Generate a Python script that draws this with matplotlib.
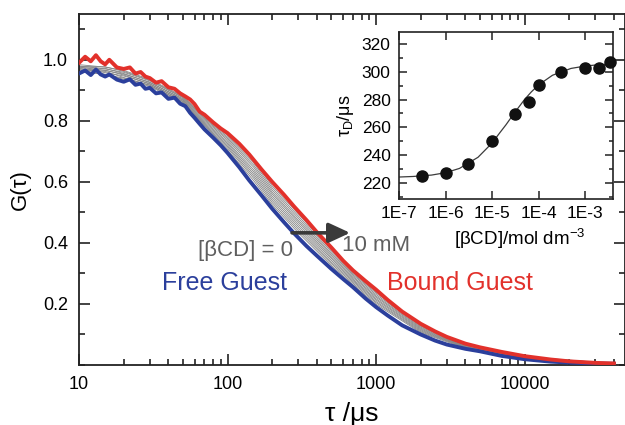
import numpy as np
import matplotlib
matplotlib.use("Agg")
import matplotlib.pyplot as plt
from matplotlib.ticker import FixedLocator, MultipleLocator, LogLocator, NullFormatter, FixedFormatter

plt.rcParams['font.family'] = ['Liberation Sans', 'DejaVu Sans']
plt.rcParams['mathtext.fontset'] = 'custom'
plt.rcParams['mathtext.rm'] = 'Liberation Sans'
plt.rcParams['mathtext.default'] = 'regular'

# -----------------------------
# FCS autocorrelation curves
# -----------------------------
tau = [10, 11, 12, 13, 14, 15, 16, 18, 20, 22, 24, 26, 28, 30, 33, 36, 40, 44, 48, 52, 56, 60,
       65, 70, 80, 90, 100, 120, 140, 170, 200, 240, 280, 340, 400, 500, 600, 700, 850, 1000,
       1200, 1500, 2000, 2500, 3000, 4000, 5000, 7000, 10000, 15000, 20000, 30000, 40000]
g_free = [0.955, 0.965, 0.950, 0.968, 0.952, 0.945, 0.952, 0.935, 0.928, 0.936, 0.918, 0.922,
          0.905, 0.908, 0.890, 0.893, 0.872, 0.876, 0.856, 0.848, 0.826, 0.810, 0.790, 0.772,
          0.745, 0.720, 0.695, 0.648, 0.605, 0.555, 0.512, 0.468, 0.432, 0.390, 0.358, 0.315,
          0.282, 0.255, 0.218, 0.190, 0.162, 0.130, 0.100, 0.080, 0.067, 0.053, 0.045, 0.030,
          0.019, 0.011, 0.008, 0.005, 0.004]
g_bound = [0.990, 1.010, 0.995, 1.015, 0.995, 0.985, 1.000, 0.975, 0.970, 0.975, 0.955, 0.960,
           0.945, 0.940, 0.925, 0.930, 0.910, 0.905, 0.890, 0.880, 0.870, 0.855, 0.830, 0.820,
           0.795, 0.775, 0.760, 0.725, 0.690, 0.640, 0.600, 0.558, 0.520, 0.475, 0.435, 0.385,
           0.342, 0.310, 0.275, 0.247, 0.213, 0.175, 0.135, 0.110, 0.092, 0.070, 0.058, 0.043,
           0.029, 0.018, 0.012, 0.007, 0.005]

tau_gray = [10, 15, 20, 30, 50, 70, 100, 150, 200, 300, 500, 700, 1000, 2000, 4000, 10000, 40000]
g_gray = [
    [.960, .953, .936, .913, .857, .779, .705, .604, .525, .433, .326, .263, .199, .106, .055, .020, .004],
    [.968, .951, .940, .917, .860, .784, .711, .612, .532, .440, .332, .268, .204, .109, .057, .021, .004],
    [.966, .962, .942, .916, .863, .787, .716, .619, .539, .447, .337, .273, .208, .112, .058, .022, .004],
    [.972, .958, .947, .922, .865, .791, .721, .626, .546, .454, .343, .277, .213, .115, .059, .023, .004],
    [.970, .966, .950, .920, .868, .795, .726, .633, .553, .461, .349, .281, .217, .118, .060, .023, .004],
    [.976, .965, .953, .927, .870, .799, .731, .640, .560, .468, .354, .286, .222, .121, .061, .024, .005],
    [.974, .972, .955, .925, .873, .803, .737, .648, .566, .474, .360, .290, .226, .124, .063, .025, .005],
    [.980, .970, .959, .931, .876, .807, .742, .655, .573, .481, .365, .295, .231, .127, .064, .025, .005],
    [.978, .977, .962, .933, .878, .810, .747, .662, .580, .488, .371, .299, .236, .130, .065, .026, .005],
    [.984, .976, .965, .936, .881, .814, .752, .669, .587, .495, .377, .303, .240, .133, .066, .027, .005],
]

# -----------------------------
# Inset: diffusion time vs [bCD]
# -----------------------------
conc = [3.2e-7, 1e-6, 3.1e-6, 1e-5, 3.2e-5, 6.2e-5, 1e-4, 3e-4, 1e-3, 2e-3, 3.5e-3]
tau_d = [225.3, 227.0, 234.0, 250.4, 269.6, 278.0, 290.3, 299.9, 303.0, 303.0, 307.0]
fit_conc = [1e-7, 2e-7, 5e-7, 1e-6, 2e-6, 5e-6, 1e-5, 1.5e-5, 2e-5, 3e-5, 5e-5, 7e-5,
            1e-4, 2e-4, 5e-4, 1e-3, 2e-3, 4e-3]
fit_tau = [224.3, 224.7, 225.7, 227.4, 230.5, 238.5, 248.7, 256.5, 261.9, 270.2, 280.0, 285.5,
           290.5, 297.5, 302.4, 304.1, 305.1, 305.5]

BLUE = '#2b3f9c'
RED = '#e2312b'
GRAY_TXT = '#5f5f5f'

fig = plt.figure(figsize=(6.25, 4.25), dpi=100)
ax = fig.add_axes([79/625, 60/425, 546/625, 351/425])

for g in g_gray:
    ax.plot(tau_gray, g, color='#858585', lw=0.6, zorder=2)
ax.plot(tau, g_free, color=BLUE, lw=2.8, zorder=3)
ax.plot(tau, g_bound, color=RED, lw=2.8, zorder=4)

ax.set_xscale('log')
ax.set_xlim(10, 47500)
ax.set_ylim(0, 1.15)
ax.yaxis.set_major_locator(FixedLocator([0.2, 0.4, 0.6, 0.8, 1.0]))
ax.yaxis.set_minor_locator(MultipleLocator(0.1))
ax.yaxis.set_major_formatter(FixedFormatter(['0.2', '0.4', '0.6', '0.8', '1.0']))
ax.xaxis.set_minor_locator(LogLocator(base=10, subs=np.arange(2, 10)))
ax.xaxis.set_minor_formatter(NullFormatter())
ax.set_xticks([10, 100, 1000, 10000])
ax.set_xticklabels(['10', '100', '1000', '10000'])
ax.tick_params(which='both', direction='in', top=True, right=True, labelsize=13, pad=8,
               width=1.2, color='#222222')
ax.tick_params(which='major', length=8)
ax.tick_params(which='minor', length=4)
for s in ax.spines.values():
    s.set_linewidth(1.3)
    s.set_color('#222222')

ax.set_xlabel('τ /μs', fontsize=19)
ax.xaxis.set_label_coords(0.5, -0.105)
ax.set_ylabel('G(τ)', fontsize=16)
ax.yaxis.set_label_coords(-0.088, 0.5)

ax.annotate('', xy=(670, 0.433), xytext=(272, 0.433),
            arrowprops=dict(arrowstyle='-|>,head_length=0.65,head_width=0.3',
                            color='#3a3a3a', lw=2.6, mutation_scale=20, shrinkA=0, shrinkB=0),
            zorder=5)
ax.text(133, 0.374, '[βCD] = 0', color=GRAY_TXT, fontsize=16, ha='center', va='center')
ax.text(1000, 0.390, '10 mM', color=GRAY_TXT, fontsize=16, ha='center', va='center')
ax.text(95, 0.270, 'Free Guest', color=BLUE, fontsize=18, ha='center', va='center')
ax.text(3680, 0.270, 'Bound Guest', color=RED, fontsize=18, ha='center', va='center')

# inset
axi = fig.add_axes([399/625, 226/425, 214/625, 167/425])
axi.plot(fit_conc, fit_tau, color='#3c3c3c', lw=0.9, zorder=2)
axi.plot(conc, tau_d, 'o', color='#111111', ms=8, zorder=3, clip_on=False)
axi.set_xscale('log')
axi.set_xlim(1e-7, 4e-3)
axi.set_ylim(208.5, 328.6)
axi.set_xticks([1e-7, 1e-6, 1e-5, 1e-4, 1e-3])
axi.set_xticklabels(['1E-7', '1E-6', '1E-5', '1E-4', '1E-3'])
axi.xaxis.set_minor_locator(LogLocator(base=10, subs=np.arange(2, 10)))
axi.xaxis.set_minor_formatter(NullFormatter())
axi.set_yticks([220, 240, 260, 280, 300, 320])
axi.yaxis.set_minor_locator(MultipleLocator(10))
axi.tick_params(which='both', direction='in', top=True, right=True, labelsize=12.5,
                width=1.1, color='#222222')
axi.tick_params(axis='x', pad=5)
axi.tick_params(axis='y', pad=6)
axi.tick_params(which='major', length=6)
axi.tick_params(which='minor', length=3)
for s in axi.spines.values():
    s.set_linewidth(1.2)
    s.set_color('#222222')
axi.set_xlabel('[βCD]/mol dm$^{-3}$', fontsize=13.5, va='top')
axi.xaxis.set_label_coords(0.565, -0.17)
axi.set_ylabel('τ$_D$/μs', fontsize=13)

fig.savefig('out.png', dpi=100)
